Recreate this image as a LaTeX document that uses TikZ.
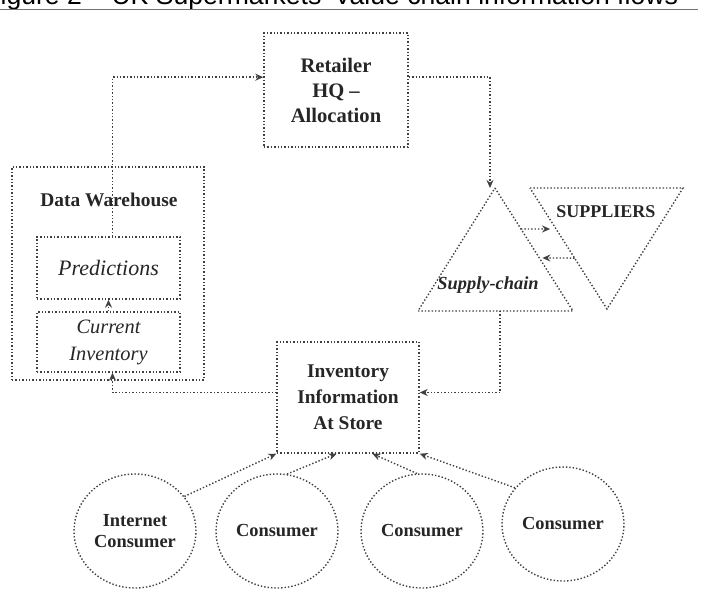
\documentclass[tikz,border=0pt]{standalone}
\usepackage{fontspec}
\setmainfont{Liberation Serif}
\newfontfamily\capfont{Liberation Sans}
\usetikzlibrary{calc,arrows.meta,shapes.geometric}

\begin{document}
\begin{tikzpicture}[x=0.5pt,y=-0.5pt,
    line/.style={densely dotted, line width=0.7pt, draw=black!75},
    flow/.style={line, -{Stealth[length=4pt,width=3.5pt]}},
    box/.style={line, rectangle, align=center, text=black!85, inner sep=0pt},
    lbl/.style={text=black!85, inner sep=0pt, align=center},
    cons/.style={line, ellipse, minimum width=61pt, minimum height=57pt, align=center,
        text=black!85, inner sep=0pt, font=\fontsize{9.2}{10.5}\selectfont\bfseries}]
    \useasboundingbox (0,0) rectangle (725,600);
    %%%%% START %%%%%

    % caption, cut off at the top
    \node[anchor=base west, inner sep=0pt, font=\capfont\fontsize{13.3}{15}\selectfont] (cap) at (-16,4.5)
        {Figure 2 \textendash{} UK Supermarkets' Value chain information flows};
    \draw[black!55, line width=0.5pt] (0,9) -- (698,9);

    \node[box, minimum width=72pt, minimum height=57pt, font=\fontsize{10.3}{12.5}\selectfont\bfseries] (hq) at (336,90)
        {Retailer\\HQ --\\Allocation};

    % data warehouse
    \node[box, minimum width=96pt, minimum height=106.5pt] (dw) at (108,273.5) {};
    \node[lbl, font=\fontsize{9.7}{11}\selectfont\bfseries] (dwt) at (109,200) {Data Warehouse};
    \node[box, minimum width=71.5pt, minimum height=31pt, font=\fontsize{11}{13}\selectfont\itshape] (pred) at (108.5,268)
        {Predictions};
    \node[box, minimum width=71.5pt, minimum height=30pt, font=\fontsize{10.2}{13.5}\selectfont\itshape] (cur) at (108.5,342)
        {Current\\Inventory};

    \node[box, minimum width=71pt, minimum height=55.5pt, font=\fontsize{9.7}{13}\selectfont\bfseries] (inv) at (348,397.5)
        {Inventory\\Information\\At Store};

    % supply chain and suppliers
    \coordinate (scA) at (495,188);
    \coordinate (scL) at (418,311);
    \coordinate (scR) at (573,311);
    \draw[line] (scA) -- (scR) -- (scL) -- cycle;
    \node[lbl, font=\fontsize{9.2}{11}\selectfont\bfseries\itshape] (sct) at (488,285) {Supply-chain};

    \coordinate (spL) at (530,188);
    \coordinate (spR) at (683,188);
    \coordinate (spB) at (607,309);
    \draw[line] (spL) -- (spR) -- (spB) -- cycle;
    \node[lbl, font=\fontsize{9}{11}\selectfont\bfseries] (spt) at (606,212) {SUPPLIERS};

    \draw[flow, shorten >=3pt] ($(scA)!0.333!(scR)$) -- ($(spL)!0.339!(spB)$);
    \draw[flow, shorten >=1.5pt] ($(spL)!0.579!(spB)$) -- ($(scA)!0.569!(scR)$);

    % consumers
    \node[cons] (c1) at (135,531) {Internet\\Consumer};
    \node[cons] (c2) at (277,531) {Consumer};
    \node[cons] (c3) at (422,531) {Consumer};
    \node[cons] (c4) at (563,524) {Consumer};

    \draw[flow] (c1.35) -- (inv.south west);
    \draw[flow] (c2.80) -- ($(inv.south west)!0.42!(inv.south east)$);
    \draw[flow] (c3.95) -- ($(inv.south west)!0.67!(inv.south east)$);
    \draw[flow] (c4.143) -- (inv.south east);

    % information flows
    \draw[flow] (cur.north) -- (pred.south);
    \draw[flow] ([xshift=2pt]pred.north) |- (hq.170);
    \draw[flow] (hq.10) -| ([xshift=-2.5pt]scA);
    \draw[flow] ($(scL)!0.53!(scR)$) |- (inv.4);
    \draw[flow] (inv.176) -| ([xshift=2pt]cur.south);

    %%%%% END %%%%%
\end{tikzpicture}
\end{document}
